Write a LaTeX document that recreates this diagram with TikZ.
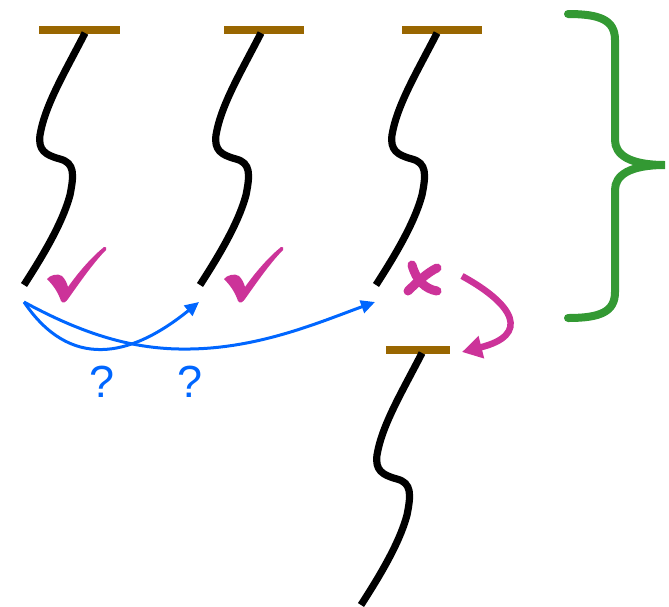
\documentclass[tikz,border=0pt]{standalone}
\usepackage{fontspec}
\setmainfont{Liberation Sans}
\usetikzlibrary{arrows.meta}
\definecolor{cmag}{RGB}{204,51,153}
\definecolor{cblue}{RGB}{0,102,255}
\definecolor{cgreen}{RGB}{51,153,51}
\definecolor{cbrown}{RGB}{153,102,0}
\tikzset{
  strandline/.style={draw=black,line width=7.2pt,line cap=butt},
  barbox/.style={fill=cbrown,draw=none,inner sep=0pt,minimum height=8pt},
  bluearrow/.style={draw=cblue,line width=3pt,-{Triangle[length=14pt,width=13pt]}},
  magarrow/.style={draw=cmag,line width=6.5pt,-{Triangle[length=20pt,width=22pt]}},
  crossline/.style={draw=cmag,line width=9pt,line cap=round},
  qmark/.style={text=cblue,inner sep=0pt,font=\fontsize{45}{45}\selectfont},
  strand/.pic={
    \draw[strandline] (85,33) .. controls (65,72) and (45,105) .. (40,135)
      .. controls (38,150) and (45,155) .. (60,159)
      .. controls (75,163) and (74,175) .. (70,195)
      .. controls (62,225) and (40,260) .. (24,285);
  },
  checkmark/.pic={
    \fill[cmag] (47,279) .. controls (50,275) and (58,273) .. (62,276)
      .. controls (65,279) and (67,283) .. (68,287)
      .. controls (80,270) and (93,256) .. (104,247)
      .. controls (106,246) and (107,248) .. (106,250)
      .. controls (94,262) and (80,282) .. (68,299)
      .. controls (66,302) and (63,304) .. (61,301)
      .. controls (58,292) and (53,285) .. (47,279) -- cycle;
  }
}
\begin{document}
\begin{tikzpicture}[x=1pt,y=-1pt]
\useasboundingbox (0,0) rectangle (669,606);
% bars
\node[barbox,minimum width=81pt] (bar1) at (79.5,30) {};
\node[barbox,minimum width=80pt] (bar2) at (264,30) {};
\node[barbox,minimum width=80pt] (bar3) at (442,30) {};
\node[barbox,minimum width=64pt] (bar4) at (418,350) {};
% strands
\pic at (0,0) {strand};
\pic at (176,0) {strand};
\pic at (352,0) {strand};
\pic at (337,320) {strand};
% checks
\pic at (0,0) {checkmark};
\pic at (177,0) {checkmark};
% cross
\draw[crossline] (412,265) .. controls (416,280) and (425,289) .. (437,291);
\draw[crossline] (437,268) .. controls (428,272) and (416,283) .. (408,291);
% magenta arrow
\coordinate (ms) at (462,276);
\coordinate (me) at (462,352);
\draw[magarrow] (ms) .. controls (515,305) and (530,335) .. (me);
% blue arrows
\coordinate (o) at (24,302);
\coordinate (t2) at (199,302);
\coordinate (t3) at (375,302);
\draw[bluearrow] (o) .. controls (70,370) and (130,358) .. (t2);
\draw[bluearrow] (o) .. controls (90,338) and (140,350) .. (190,349) .. controls (260,348) and (320,322) .. (t3);
% question marks
\node[qmark] (q1) at (102,382) {?};
\node[qmark] (q2) at (190,382) {?};
% brace
\draw[cgreen,line width=8pt,line cap=round] (568,14) .. controls (600,14) and (615,20) .. (615,40) -- (615,140)
  .. controls (615,155) and (630,165) .. (665,165)
  .. controls (630,165) and (615,175) .. (615,190) -- (615,292)
  .. controls (615,312) and (600,318) .. (568,318);
\end{tikzpicture}
\end{document}
